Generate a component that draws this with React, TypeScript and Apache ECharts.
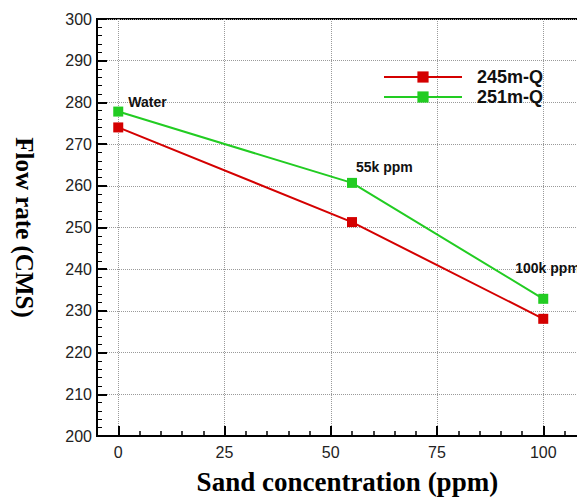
import React, { useEffect, useRef } from "react";
import * as echarts from "echarts";

const xValues = [0, 55, 100];
const q245 = [274, 251.3, 228.1];
const q251 = [277.8, 260.7, 232.9];
const pointLabels = ["Water", "55k ppm", "100k ppm"];
const seriesNames = ["245m-Q", "251m-Q"];

const labelOffsets = [
  [10, -10],
  [4, -16],
  [-28, -31],
];

const RED = "#d40000";
const GREEN = "#22cc22";
const GRID_GRAY = "#9a9a9a";
const SANS = "Liberation Sans, Arial, sans-serif";
const SERIF = "Liberation Serif, Times New Roman, serif";

const PX_PER_UNIT = 4.25;
const PLOT_LEFT = 97;
const X_MIN = -5;
const X_MAX = 110;

export default function App() {
  const ref = useRef<HTMLDivElement>(null);
  useEffect(() => {
    if (!ref.current) return;
    const chart = echarts.init(ref.current, null, { renderer: "svg" });
    const gridStyle = { top: 19, height: 417, outerBoundsMode: "none", containLabel: false };
    const option: any = {
      animation: false,
      backgroundColor: "#ffffff",
      grid: [
        {
          ...gridStyle,
          left: PLOT_LEFT,
          width: (X_MAX - X_MIN) * PX_PER_UNIT,
          show: true,
          borderColor: "#000",
          borderWidth: 2,
          backgroundColor: "rgba(0,0,0,0)",
        },
        {
          ...gridStyle,
          left: PLOT_LEFT - X_MIN * PX_PER_UNIT,
          width: X_MAX * PX_PER_UNIT,
          show: false,
        },
      ],
      legend: {
        orient: "vertical",
        left: 378,
        top: 63,
        itemWidth: 78,
        itemHeight: 14,
        itemGap: 2,
        data: seriesNames,
        textStyle: {
          fontFamily: SANS,
          fontWeight: "bold",
          fontSize: 18,
          color: "#111",
          padding: [0, 0, 0, 10],
        },
      },
      xAxis: [
        {
          type: "value",
          gridIndex: 0,
          min: X_MIN,
          max: X_MAX,
          interval: 5,
          position: "bottom",
          name: "Sand concentration (ppm)",
          nameLocation: "middle",
          nameGap: 32,
          nameTextStyle: {
            fontFamily: SERIF,
            fontWeight: "bold",
            fontSize: 27,
            color: "#000",
            padding: [0, 0, 0, 12],
          },
          axisLine: { show: true, onZero: false, lineStyle: { color: "#000", width: 2 } },
          axisTick: {
            show: true,
            inside: true,
            length: 5,
            lineStyle: { color: "#000", width: 1.5 },
          },
          axisLabel: { show: false },
          splitLine: { show: false },
        },
        {
          type: "value",
          gridIndex: 1,
          min: 0,
          max: X_MAX,
          interval: 25,
          position: "bottom",
          axisLine: { show: true, onZero: false, lineStyle: { color: "#000", width: 2 } },
          axisTick: {
            show: true,
            inside: true,
            length: 10,
            lineStyle: { color: "#000", width: 2 },
          },
          axisLabel: {
            show: true,
            fontFamily: SANS,
            fontSize: 16,
            color: "#222",
            margin: 8,
            showMaxLabel: false,
          },
          splitLine: {
            show: true,
            lineStyle: { color: GRID_GRAY, type: "dotted", width: 1 },
          },
        },
      ],
      yAxis: [
        {
          type: "value",
          gridIndex: 0,
          min: 200,
          max: 300,
          interval: 10,
          name: "Flow rate (CMS)",
          nameLocation: "middle",
          nameRotate: -90,
          nameGap: 60,
          nameTextStyle: {
            fontFamily: SERIF,
            fontWeight: "bold",
            fontSize: 25,
            color: "#000",
          },
          axisLine: { show: true, onZero: false, lineStyle: { color: "#000", width: 2 } },
          axisTick: {
            show: true,
            inside: true,
            length: 10,
            lineStyle: { color: "#000", width: 2 },
          },
          minorTick: {
            show: true,
            splitNumber: 5,
            length: 5,
            lineStyle: { color: "#000", width: 1 },
          },
          axisLabel: {
            fontFamily: SANS,
            fontSize: 16,
            color: "#222",
            margin: 5,
          },
          splitLine: {
            show: true,
            lineStyle: { color: GRID_GRAY, type: "dotted", width: 1 },
          },
        },
        {
          type: "value",
          gridIndex: 1,
          min: 200,
          max: 300,
          show: false,
        },
      ],
      series: [
        {
          name: seriesNames[0],
          type: "line",
          xAxisIndex: 0,
          yAxisIndex: 0,
          data: xValues.map((x, i) => [x, q245[i]]),
          symbol: "rect",
          symbolSize: 10,
          lineStyle: { color: RED, width: 2 },
          itemStyle: { color: RED },
          z: 3,
        },
        {
          name: seriesNames[1],
          type: "line",
          xAxisIndex: 0,
          yAxisIndex: 0,
          data: xValues.map((x, i) => ({
            value: [x, q251[i]],
            label: {
              show: true,
              formatter: pointLabels[i],
              position: "inside",
              align: "left",
              verticalAlign: "middle",
              offset: labelOffsets[i],
              fontFamily: SANS,
              fontWeight: "bold",
              fontSize: 14,
              color: "#111",
            },
          })),
          symbol: "rect",
          symbolSize: 10,
          lineStyle: { color: GREEN, width: 2 },
          itemStyle: { color: GREEN },
          z: 4,
        },
      ],
    };
    chart.setOption(option);
    return () => chart.dispose();
  }, []);
  return (
    <div
      ref={ref}
      style={{ position: "absolute", left: 0, top: 0, width: 577, height: 498 }}
    />
  );
}
